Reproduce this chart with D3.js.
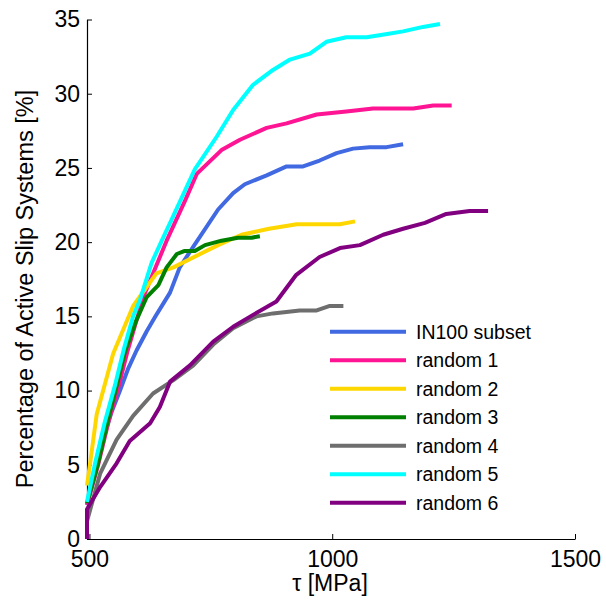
<!DOCTYPE html>
<html><head><meta charset="utf-8">
<script src="https://cdn.jsdelivr.net/npm/d3@7"></script>
<style>body{margin:0;background:#fff}svg text{font-family:"Liberation Sans",Arial,sans-serif;fill:#000}</style>
</head><body><div id="chart"></div>
<script>
const seriesNames = ["IN100 subset","random 1","random 2","random 3","random 4","random 5","random 6"];
const seriesColors = ["#4169E1","#FF1493","#FFD700","#008000","#6E6E6E","#00FFFF","#800080"];
const in100 = [[495,2.3],[510,4.5],[528,6.7],[545,8.5],[563,10.0],[580,11.5],[597,12.7],[618,14.0],[636,15.0],[666,16.6],[686,18.3],[714,19.7],[765,22.2],[796,23.3],[820,23.9],[865,24.5],[906,25.1],[940,25.1],[974,25.5],[1009,26.0],[1043,26.3],[1077,26.4],[1112,26.4],[1146,26.6]];
const random1 = [[495,2.3],[518,5.0],[540,8.0],[561,10.4],[578,12.6],[611,16.3],[659,20.1],[697,22.8],[721,24.6],[772,26.2],[810,26.9],[865,27.7],[906,28.0],[968,28.6],[1029,28.8],[1084,29.0],[1167,29.0],[1208,29.2],[1246,29.2]];
const random2 = [[495,3.6],[501,5.0],[515,8.4],[549,12.5],[590,15.7],[638,17.9],[673,18.3],[728,19.2],[765,19.8],[813,20.5],[870,20.9],[927,21.2],[1016,21.2],[1047,21.4]];
const random3 = [[495,2.4],[517,5.0],[538,8.0],[556,10.3],[573,12.6],[595,14.6],[618,16.3],[642,17.1],[659,18.3],[680,19.2],[695,19.4],[717,19.4],[738,19.8],[772,20.1],[806,20.3],[834,20.3],[851,20.4]];
const random4 = [[495,1.2],[522,4.4],[556,6.7],[590,8.3],[631,9.8],[673,10.7],[714,11.7],[755,13.1],[796,14.2],[844,15.0],[878,15.2],[933,15.4],[968,15.4],[995,15.7],[1023,15.7]];
const random5 = [[495,2.5],[511,5.0],[531,7.8],[553,10.4],[571,12.8],[590,15.0],[604,16.1],[628,18.6],[649,20.1],[669,21.5],[717,24.9],[762,27.1],[796,28.9],[837,30.6],[878,31.6],[913,32.3],[954,32.7],[988,33.5],[1029,33.8],[1071,33.8],[1110,34.0],[1146,34.2],[1187,34.5],[1222,34.7]];
const random6 = [[495,0],[495,2.0],[522,3.5],[556,5.1],[583,6.6],[625,7.8],[645,8.9],[666,10.6],[707,11.7],[755,13.3],[796,14.3],[837,15.1],[885,16.0],[926,17.8],[974,19.0],[1016,19.6],[1057,19.8],[1105,20.5],[1146,20.9],[1191,21.3],[1235,21.9],[1283,22.1],[1321,22.1]];
const seriesData = [in100,random1,random2,random3,random4,random5,random6];
const xTicks = [500,1000,1500];
const yTicks = [0,5,10,15,20,25,30,35];
const xLabel = "τ [MPa]";
const yLabel = "Percentage of Active Slip Systems [%]";

const W=606,H=606;
const svg=d3.select("#chart").append("svg").attr("width",W).attr("height",H);
const x=d3.scaleLinear().domain([495,1500]).range([87,575]);
const y=d3.scaleLinear().domain([0,35]).range([539,19.5]);

const xAxis=svg.append("g").attr("transform",`translate(0,${y(0)})`)
  .call(d3.axisBottom(x).tickValues(xTicks).tickSizeInner(-5).tickSizeOuter(0).tickPadding(12).tickFormat(d3.format("d")));
const yAxis=svg.append("g").attr("transform",`translate(${x(495)},0)`)
  .call(d3.axisLeft(y).tickValues(yTicks).tickSizeInner(-5).tickSizeOuter(0).tickPadding(7));
[xAxis,yAxis].forEach(g=>{g.select(".domain").attr("stroke","#000").attr("stroke-width",1.2);
  g.selectAll(".tick line").attr("stroke","#000");
  g.selectAll("text").attr("font-size",23).attr("font-family","Liberation Sans, Arial").attr("fill","#000");});

const line=d3.line().x(d=>x(d[0])).y(d=>y(d[1]));
svg.append("g").selectAll("path").data(seriesData).join("path")
  .attr("d",line).attr("fill","none").attr("stroke",(d,i)=>seriesColors[i])
  .attr("stroke-width",4).attr("stroke-linejoin","round");

const leg=svg.append("g");
seriesNames.forEach((n,i)=>{
  const yy=331.7+i*28.5;
  leg.append("line").attr("x1",330).attr("x2",406).attr("y1",yy).attr("y2",yy).attr("stroke",seriesColors[i]).attr("stroke-width",4);
  leg.append("text").attr("x",416).attr("y",yy+7).attr("font-size",19.5).text(n);
});
svg.append("text").attr("x",330).attr("y",591).attr("text-anchor","middle").attr("font-size",23).text(xLabel);
svg.append("text").attr("transform",`translate(33,${289}) rotate(-90)`).attr("text-anchor","middle").attr("font-size",23.5).text(yLabel);
</script></body></html>
